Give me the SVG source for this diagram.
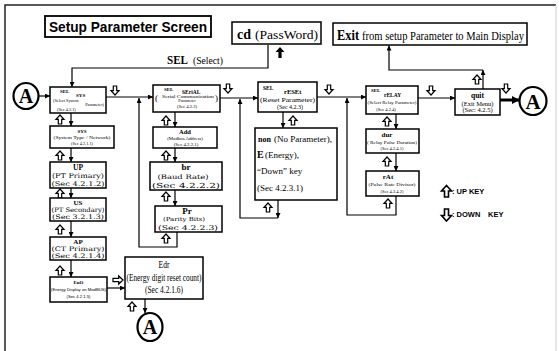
<svg xmlns="http://www.w3.org/2000/svg" xmlns:xlink="http://www.w3.org/1999/xlink" width="559" height="351" viewBox="0 0 559 351">
<style>
.bx{fill:#fff;stroke:#000;stroke-width:1.5}
.c{fill:none;stroke:#000;stroke-width:1.2}
.t{font-family:"Liberation Serif",serif;fill:#000}
.d{font-family:"DejaVu Serif",serif;fill:#000}
.s{font-family:"Liberation Sans",Arial,sans-serif;fill:#000}
.b{font-weight:bold}
.m{text-anchor:middle}
.e{text-anchor:end}
.ho{fill:#fff;stroke:#000;stroke-width:1.2;stroke-linejoin:miter}
.circ{fill:#fff;stroke:#000;stroke-width:2.2}
</style>
<defs>
<marker id="ah" markerUnits="userSpaceOnUse" markerWidth="6" markerHeight="5" viewBox="0 0 10 10" refX="10" refY="5" orient="auto"><path d="M0,0 L10,5 L0,10 Z" fill="#000"/></marker>
<marker id="ahb" markerUnits="userSpaceOnUse" markerWidth="8" markerHeight="8" viewBox="0 0 10 10" refX="9" refY="5" orient="auto"><path d="M0,0 L10,5 L0,10 Z" fill="#000"/></marker>
<path id="hu" class="ho" d="M0,0 L4,4.3 L1.7,4.3 L1.7,9 L-1.7,9 L-1.7,4.3 L-4,4.3 Z"/>
<path id="hd" class="ho" d="M0,9 L4,4.7 L1.7,4.7 L1.7,0 L-1.7,0 L-1.7,4.7 L-4,4.7 Z"/>
</defs>

<g id="frame">
<path d="M5,351 V5 H556" fill="none" stroke="#222" stroke-width="1.5"/>
<path d="M556,5 V351" fill="none" stroke="#ccc" stroke-width="1"/>
</g>

<g id="connectors">
<path class="c" d="M39,96 H50" marker-end="url(#ah)"/>
<path class="c" d="M106,97 H153" marker-end="url(#ah)"/>
<path class="c" d="M177,232 V247 H139 V98" marker-end="url(#ah)"/>
<path class="c" d="M220,98 H258" marker-end="url(#ah)"/>
<path class="c" d="M278,200 V218" marker-end="url(#ah)"/>
<path class="c" d="M278,218 H240 V99" marker-end="url(#ah)"/>
<path class="c" d="M317,97 H366" marker-end="url(#ah)"/>
<path class="c" d="M396,196 V215 H347 V98" marker-end="url(#ah)"/>
<path class="c" d="M418,98 H455" marker-end="url(#ah)"/>
<path d="M500,100 H519" fill="none" stroke="#000" stroke-width="3" marker-end="url(#ahb)"/>
<path class="c" d="M268,45 V68 H72 V87" marker-end="url(#ah)"/>
<path class="c" d="M483,89 V70" marker-end="url(#ah)"/>
<path class="c" d="M483,70 H389 V45.5" marker-end="url(#ah)"/>
<path class="c" d="M71,113 V126" marker-end="url(#ah)"/>
<path class="c" d="M71,148 V162" marker-end="url(#ah)"/>
<path class="c" d="M71,188 V198" marker-end="url(#ah)"/>
<path class="c" d="M71,221 V237" marker-end="url(#ah)"/>
<path class="c" d="M71,260 V277" marker-end="url(#ah)"/>
<path class="c" d="M107,288 H125" marker-end="url(#ah)"/>
<path class="c" d="M145,299 V313" marker-end="url(#ah)"/>
<path class="c" d="M175,112 V127" marker-end="url(#ah)"/>
<path class="c" d="M175,148 V162" marker-end="url(#ah)"/>
<path class="c" d="M175,190 V206" marker-end="url(#ah)"/>
<path class="c" d="M283,112 V128" marker-end="url(#ah)"/>
<path class="c" d="M396,114 V129" marker-end="url(#ah)"/>
<path class="c" d="M396,153 V171" marker-end="url(#ah)"/>
<path d="M280,47 L284.5,52 L281.6,52 L281.6,58 L278.4,58 L278.4,52 L275.5,52 Z" fill="#000"/>
<use xlink:href="#hd" x="115" y="86"/>
<use xlink:href="#hd" x="228" y="84"/>
<use xlink:href="#hd" x="329" y="85"/>
<use xlink:href="#hd" x="431" y="86"/>
<use xlink:href="#hd" x="506" y="84"/>
<use xlink:href="#hu" x="60" y="115"/>
<use xlink:href="#hu" x="60" y="151"/>
<use xlink:href="#hu" x="60" y="189"/>
<use xlink:href="#hu" x="60" y="225"/>
<use xlink:href="#hu" x="60" y="266"/>
<use xlink:href="#hu" x="132" y="302"/>
<use xlink:href="#hu" x="166" y="116"/>
<use xlink:href="#hu" x="166" y="151"/>
<use xlink:href="#hu" x="166" y="192"/>
<use xlink:href="#hu" x="166" y="234"/>
<use xlink:href="#hu" x="268" y="203"/>
<use xlink:href="#hu" x="293" y="116"/>
<use xlink:href="#hu" x="387" y="117"/>
<use xlink:href="#hu" x="387" y="157"/>
<use xlink:href="#hu" x="388" y="199"/>
<use xlink:href="#hu" x="477" y="75"/>
<path class="ho" d="M123,280 L118.7,276 L118.7,278.3 L113,278.3 L113,281.7 L118.7,281.7 L118.7,284 Z"/>
</g>

<g id="title">
<rect x="45" y="16" width="166" height="21" fill="#fff" stroke="#000" stroke-width="1.8"/>
<text class="s b" x="49" y="32" font-size="14" textLength="158" lengthAdjust="spacingAndGlyphs">Setup Parameter Screen</text>
</g>

<g id="cd">
<rect class="bx" x="232" y="22" width="89" height="22"/>
<text class="t b" x="237" y="39" font-size="15" textLength="14" lengthAdjust="spacingAndGlyphs">cd</text>
<text class="t" x="255" y="39" font-size="13.5" textLength="63" lengthAdjust="spacingAndGlyphs">(PassWord)</text>
</g>

<g id="exit">
<rect class="bx" x="333" y="23" width="194" height="22"/>
<text class="t b" x="337" y="40" font-size="15" textLength="22" lengthAdjust="spacingAndGlyphs">Exit</text>
<text class="t" x="362" y="40" font-size="12.5" textLength="162" lengthAdjust="spacingAndGlyphs">from setup Parameter to Main Display</text>
</g>

<g id="sel-label">
<text class="t b" x="167" y="64" font-size="13" textLength="21" lengthAdjust="spacingAndGlyphs">SEL</text>
<text class="t" x="193" y="64" font-size="11" textLength="30" lengthAdjust="spacingAndGlyphs">(Select)</text>
</g>

<g id="a-left">
<ellipse class="circ" cx="26" cy="96" rx="12.5" ry="13"/>
<text class="t b m" x="26" y="103" font-size="20">A</text>
</g>

<g id="sel-sys">
<rect class="bx" x="50" y="87" width="56" height="26"/>
<text class="t b" x="60" y="92.5" font-size="5">SEL</text>
<text class="t b" x="76" y="96.5" font-size="5">SYS</text>
<text class="t" x="53" y="101.5" font-size="4.3">(Select System</text>
<text class="t e" x="104" y="105.5" font-size="4.3">Parameter)</text>
<text class="t" x="57" y="110.5" font-size="4.3">(Sec 4.2.1)</text>
</g>

<g id="sys">
<rect class="bx" x="50" y="126" width="64" height="22"/>
<text class="t b m" x="82" y="132.5" font-size="5">SYS</text>
<text class="t m" x="82" y="139" font-size="4.3" textLength="57" lengthAdjust="spacingAndGlyphs">(System Type / Network)</text>
<text class="t m" x="82" y="145" font-size="4.3">(Sec 4.2.1.1)</text>
</g>

<g id="up">
<rect class="bx" x="50" y="162" width="56" height="26"/>
<text class="t b m" x="78" y="169.5" font-size="7.5">UP</text>
<text class="d m" x="78" y="177.5" font-size="6.5" textLength="52" lengthAdjust="spacingAndGlyphs">(PT Primary)</text>
<text class="d m" x="78" y="185.5" font-size="6.5" textLength="53" lengthAdjust="spacingAndGlyphs">(Sec 4.2.1.2)</text>
</g>

<g id="us">
<rect class="bx" x="50" y="198" width="56" height="23"/>
<text class="t b m" x="78" y="204.5" font-size="7">US</text>
<text class="d m" x="78" y="212" font-size="6.3" textLength="53" lengthAdjust="spacingAndGlyphs">(PT Secondary)</text>
<text class="d m" x="78" y="219.3" font-size="6.3" textLength="52" lengthAdjust="spacingAndGlyphs">(Sec 3.2.1.3)</text>
</g>

<g id="ap">
<rect class="bx" x="50" y="237" width="56" height="23"/>
<text class="t b m" x="78" y="243.5" font-size="7">AP</text>
<text class="d m" x="78" y="251" font-size="6.3" textLength="53" lengthAdjust="spacingAndGlyphs">(CT Primary)</text>
<text class="d m" x="78" y="258.3" font-size="6.3" textLength="53" lengthAdjust="spacingAndGlyphs">(Sec 4.2.1.4)</text>
</g>

<g id="eno">
<rect class="bx" x="50" y="277" width="57" height="25"/>
<text class="t b m" x="78.5" y="284" font-size="5">EnO</text>
<text class="s m" x="78.5" y="290.5" font-size="4.2" textLength="55" lengthAdjust="spacingAndGlyphs">(Energy Display on ModBUS)</text>
<text class="s m" x="78.5" y="297.5" font-size="4.2">(Sec 4.2.1.5)</text>
</g>

<g id="edr">
<rect class="bx" x="125" y="257" width="78" height="42"/>
<text class="t m" x="164" y="268" font-size="10.5" textLength="11" lengthAdjust="spacingAndGlyphs">Edr</text>
<text class="t m" x="164" y="281" font-size="10.5" textLength="75" lengthAdjust="spacingAndGlyphs">(Energy digit reset count)</text>
<text class="t m" x="164" y="293" font-size="10.5" textLength="38" lengthAdjust="spacingAndGlyphs">(Sec 4.2.1.6)</text>
</g>

<g id="a-bottom">
<ellipse class="circ" cx="150" cy="327" rx="12.5" ry="14"/>
<text class="t b m" x="150" y="334" font-size="20">A</text>
</g>

<g id="serial">
<rect class="bx" x="153" y="85" width="67" height="27"/>
<text class="t b" x="164" y="90.5" font-size="5">SEL</text>
<text class="t b" x="182" y="94" font-size="5.5">SEriAL</text>
<text class="t" x="155" y="101" font-size="9">(</text>
<text class="t" x="215" y="101" font-size="9">)</text>
<text class="t m" x="188" y="98" font-size="4.3" textLength="52" lengthAdjust="spacingAndGlyphs">Serial Communication</text>
<text class="t m" x="187" y="101.8" font-size="4.3">Parameter</text>
<text class="t m" x="187" y="107.5" font-size="4.6">(Sec 4.2.2)</text>
</g>

<g id="add">
<rect class="bx" x="153" y="127" width="64" height="21"/>
<text class="t b m" x="185" y="134" font-size="6.5">Add</text>
<text class="t m" x="185" y="140.3" font-size="4.8">(Modbus Address)</text>
<text class="t m" x="186" y="146.3" font-size="4.8">(Sec 4.2.2.1)</text>
</g>

<g id="br">
<rect class="bx" x="150" y="162" width="72" height="28"/>
<text class="t b m" x="186" y="170" font-size="9">br</text>
<text class="d m" x="183" y="179" font-size="6.3" textLength="51" lengthAdjust="spacingAndGlyphs">(Baud Rate)</text>
<text class="d m" x="186" y="188" font-size="7" textLength="68" lengthAdjust="spacingAndGlyphs">(Sec 4.2.2.2)</text>
</g>

<g id="pr">
<rect class="bx" x="155" y="206" width="67" height="26"/>
<text class="t b m" x="187" y="214" font-size="9">Pr</text>
<text class="d m" x="184" y="221" font-size="5.5" textLength="42" lengthAdjust="spacingAndGlyphs">(Parity Bits)</text>
<text class="d m" x="188" y="229.5" font-size="6.5" textLength="60" lengthAdjust="spacingAndGlyphs">(Sec 4.2.2.3)</text>
</g>

<g id="reset">
<rect class="bx" x="258" y="82" width="59" height="30"/>
<text class="t b" x="263" y="89.5" font-size="5.5">SEL</text>
<text class="t b" x="284" y="93.5" font-size="6.5">rESEt</text>
<text class="t" x="260" y="101.5" font-size="6.5" textLength="55" lengthAdjust="spacingAndGlyphs">(Reset Parameter)</text>
<text class="t m" x="290" y="108.5" font-size="6">(Sec 4.2.3)</text>
</g>

<g id="non">
<rect class="bx" x="255" y="128" width="82" height="72"/>
<text class="t b" x="258" y="142" font-size="8">non</text>
<text class="t" x="274" y="142" font-size="9">(No Parameter),</text>
<text class="t b" x="257" y="158" font-size="10">E</text>
<text class="t" x="265" y="158" font-size="9">(Energy),</text>
<text class="t" x="257" y="174" font-size="9">“Down” key</text>
<text class="t" x="257" y="191" font-size="9">(Sec 4.2.3.1)</text>
</g>

<g id="sel-relay">
<rect class="bx" x="366" y="86" width="52" height="28"/>
<text class="t b" x="371" y="92" font-size="5">SEL</text>
<text class="t b" x="384" y="96.5" font-size="5.5">rELAY</text>
<text class="t m" x="392" y="103.5" font-size="4.3" textLength="49" lengthAdjust="spacingAndGlyphs">(Select Relay Parameter)</text>
<text class="t m" x="386" y="110.5" font-size="4.5">(Sec 4.2.4)</text>
</g>

<g id="dur">
<rect class="bx" x="366" y="129" width="53" height="24"/>
<text class="t b m" x="387" y="137" font-size="7">dur</text>
<text class="t m" x="392" y="143.5" font-size="4.3" textLength="50" lengthAdjust="spacingAndGlyphs">( Relay Pulse Duration)</text>
<text class="t m" x="392" y="150" font-size="4.5">(Sec 4.2.4.1)</text>
</g>

<g id="rat">
<rect class="bx" x="366" y="171" width="53" height="25"/>
<text class="t b m" x="388" y="179" font-size="7">rAt</text>
<text class="t m" x="392" y="186" font-size="4.4" textLength="47" lengthAdjust="spacingAndGlyphs">(Pulse Rate Divisor)</text>
<text class="t m" x="392" y="193" font-size="4.5">(Sec 4.2.4.2)</text>
</g>

<g id="quit">
<rect class="bx" x="455" y="89" width="45" height="26"/>
<text class="t b m" x="477.5" y="98" font-size="7.5">quit</text>
<text class="t m" x="477.5" y="105.5" font-size="6.5">(Exit Menu)</text>
<text class="t m" x="477.5" y="112.3" font-size="6.5">(Sec: 4.2.5)</text>
</g>

<g id="a-right">
<ellipse class="circ" cx="533" cy="101" rx="13.5" ry="14"/>
<text class="t b m" x="533" y="108.5" font-size="21">A</text>
</g>

<g id="legend">
<path d="M446.5,185.5 L451.5,191 L448.5,191 L448.5,197 L444.5,197 L444.5,191 L441.5,191 Z" fill="#fff" stroke="#000" stroke-width="1.6"/>
<text class="s b" x="452" y="194" font-size="7.5">: UP KEY</text>
<path d="M446.5,221 L451.5,215.5 L448.5,215.5 L448.5,209 L444.5,209 L444.5,215.5 L441.5,215.5 Z" fill="#fff" stroke="#000" stroke-width="1.6"/>
<text class="s b" x="452" y="217" font-size="7.5">: DOWN<tspan x="488">KEY</tspan></text>
</g>
</svg>
